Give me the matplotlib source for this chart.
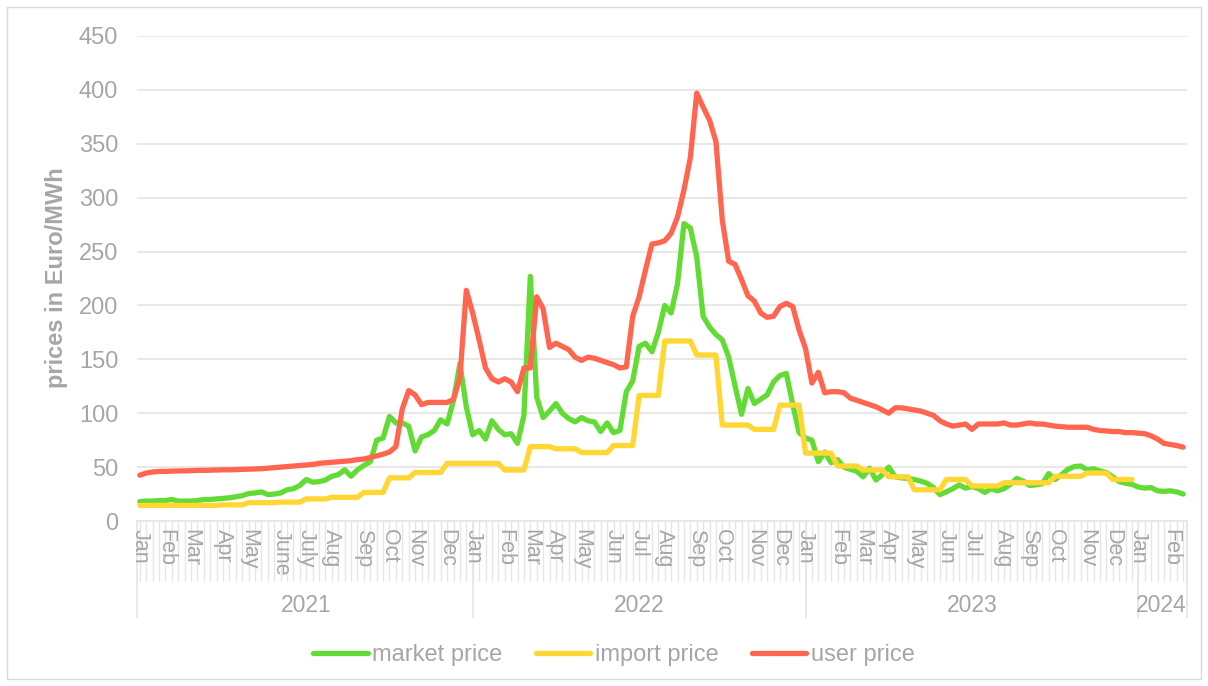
import matplotlib
matplotlib.use("Agg")
import matplotlib.pyplot as plt
from matplotlib.lines import Line2D
from matplotlib.patches import Rectangle
import matplotlib.transforms as mtransforms

plt.rcParams['font.family'] = ['Liberation Sans', 'DejaVu Sans']

# weekly prices, Jan 2021 - Feb 2024 (Euro/MWh)
market_price = [
    18, 18.5, 18.5, 19, 19, 20, 18.5, 18.5, 18.5, 19,
    20, 20, 20.5, 21, 21.5, 22.5, 23.5, 25.5, 26, 27,
    24.5, 25, 26, 29, 30, 33, 38.5, 36, 36.5, 38,
    41.5, 43, 47.5, 41.5, 47.5, 51.5, 55, 75, 77, 97,
    91, 91, 88, 65, 78, 80, 84, 94, 90, 112,
    146, 106, 80, 84, 76, 93, 85, 80, 81, 72,
    98, 227, 115, 96, 102, 109, 100, 95, 92, 96,
    93, 92, 83, 91, 82, 84, 120, 130, 162, 165,
    157, 175, 200, 193, 220, 276, 272, 245, 190, 180,
    173, 168, 152, 125, 99, 123, 109, 113, 117, 129,
    135, 137, 108, 82, 77, 75, 55, 64, 54, 57,
    50, 48, 46, 41, 49, 38, 43, 50, 41, 40,
    39.5, 38.5, 37, 35, 31, 24.5, 27, 30, 33.5, 30.5,
    32, 30, 26.5, 30, 28, 30, 34, 39.5, 37, 33,
    33.5, 34.5, 44, 38.5, 43, 48, 50.5, 51, 47.5, 48.5,
    46.5, 45, 41, 36.5, 35, 34, 31.5, 30.5, 31, 28,
    27.5, 28, 27, 25,
]

import_price = [
    14.5, 14.5, 14.5, 14.5, 14.5, 14.5, 14.5, 14.5, 14.5, 14.5,
    14.5, 14.5, 14.5, 15, 15, 15, 15, 17, 17, 17,
    17, 17, 17.5, 17.5, 17.5, 17.5, 20.5, 20.5, 20.5, 20.5,
    22, 22, 22, 22, 22, 26.5, 26.5, 26.5, 26.5, 40,
    40, 40, 40, 45, 45, 45, 45, 45, 53.5, 53.5,
    53.5, 53.5, 53.5, 53.5, 53.5, 53.5, 53.5, 47.3, 47.3, 47.3,
    47.3, 69, 69, 69, 69, 67, 67, 67, 67, 63.5,
    63.5, 63.5, 63.5, 63.5, 70, 70, 70, 70, 116.5, 116.5,
    116.5, 116.5, 167, 167, 167, 167, 167, 154, 154, 154,
    154, 89, 89, 89, 89, 89, 85, 85, 85, 85,
    107.5, 107.5, 107.5, 107.5, 63, 63, 63, 63, 63, 51,
    51, 51, 51, 47.3, 47.3, 47.3, 47.3, 41, 41, 41,
    41, 29, 29, 29, 29, 29, 38.5, 38.5, 38.5, 38.5,
    32.5, 32.5, 32.5, 32.5, 32.5, 35.5, 35.5, 35.5, 35.5, 35.5,
    35.5, 35.5, 35.5, 41.5, 41.5, 41.5, 41.5, 41.5, 44.5, 44.5,
    44.5, 44.5, 38.5, 38.5, 38.5, 38.5, None, None, None, None,
    None, None, None, None,
]

user_price = [
    42.5, 44.5, 45.5, 46, 46, 46.3, 46.4, 46.5, 46.7, 47,
    47, 47.2, 47.3, 47.5, 47.5, 47.7, 48, 48, 48.3, 48.5,
    49, 49.5, 50, 50.5, 51, 51.5, 52, 52.5, 53.5, 54,
    54.5, 55, 55.5, 56, 57, 57.5, 59, 60.5, 62, 64,
    69, 104, 121, 117, 108, 110, 110, 110, 110, 113,
    133, 214, 193, 168, 142, 132, 129, 132, 129, 120,
    142, 142, 208, 197, 161, 165, 162, 159, 152, 149,
    152, 151, 149, 147, 145, 142, 143, 190, 208, 233,
    257, 258, 260, 267, 282, 307, 337, 397, 384, 372,
    352, 279, 241, 238, 224, 209, 204, 193, 189, 190,
    199, 202, 199, 177, 160, 128, 138, 119, 120, 120,
    119, 114, 112, 110, 108, 106, 103, 100, 105, 105,
    104, 103, 102, 100, 98, 93, 90, 88, 89, 90,
    85, 90, 90, 90, 90, 91, 89, 89, 90, 91,
    90, 90, 89, 88, 87.5, 87, 87, 87, 87, 85,
    84, 83.5, 83, 83, 82, 82, 81.5, 81, 79, 76,
    72, 71, 70, 68.5,
]

# first week of each month (week index) and its label
month_pos = [0, 4, 8, 13, 17, 22, 26, 30, 35, 39, 43, 48,
             52, 57, 61, 65, 69, 74, 78, 82, 87, 91, 96, 100,
             104, 109, 113, 117, 121, 126, 130, 135, 139, 143, 148, 152,
             156, 161]
month_labels = ['Jan', 'Feb', 'Mar', 'Apr', 'May', 'June', 'July', 'Aug', 'Sep', 'Oct', 'Nov', 'Dec',
                'Jan', 'Feb', 'Mar', 'Apr', 'May', 'Jun', 'Jul', 'Aug', 'Sep', 'Oct', 'Nov', 'Dec',
                'Jan', 'Feb', 'Mar', 'Apr', 'May', 'Jun', 'Jul', 'Aug', 'Sep', 'Oct', 'Nov', 'Dec',
                'Jan', 'Feb']
years = ['2021', '2022', '2023', '2024']
year_start = [0, 52, 104, 156]

weeks = list(range(len(user_price)))

GREEN = '#63DB35'
YELLOW = '#FFD632'
RED = '#FF654F'
GREY = '#a6a6a6'
LIGHT = '#e6e6e6'

W, H = 1208, 686
fig = plt.figure(figsize=(W / 100, H / 100), dpi=100)
ax = fig.add_axes([137 / W, 1 - 521 / H, 1050 / W, 485 / H])

lw = 3.8
ax.plot(weeks, market_price, color=GREEN, lw=lw, solid_capstyle='round', solid_joinstyle='round', zorder=3)
ax.plot(weeks, import_price, color=YELLOW, lw=lw, solid_capstyle='round', solid_joinstyle='round', zorder=4)
ax.plot(weeks, user_price, color=RED, lw=lw, solid_capstyle='round', solid_joinstyle='round', zorder=5)

x_left, x_right = -0.45, len(weeks) - 1 + 0.6
ax.set_xlim(x_left, x_right)
ax.set_ylim(0, 450)
ax.set_yticks(range(0, 451, 50))
ax.yaxis.grid(True, color=LIGHT, lw=1.3)
ax.set_axisbelow(True)
for s in ['top', 'right', 'left']:
    ax.spines[s].set_visible(False)
ax.spines['bottom'].set_color(LIGHT)
ax.spines['bottom'].set_linewidth(1.3)

ax.tick_params(axis='y', length=0, pad=13.5, labelsize=17, labelcolor=GREY)
ax.set_xticks(month_pos)
ax.set_xticklabels(month_labels, rotation=270, fontsize=15.5, color=GREY)
ax.tick_params(axis='x', length=0, pad=6)

# category tick lines and year groups below the axis
trans = mtransforms.blended_transform_factory(ax.transData, ax.transAxes)
ax.vlines(weeks, -60 / 485, 0, transform=trans, color=LIGHT, lw=1, clip_on=False, zorder=0)
for xs in [x_left] + year_start[1:] + [x_right]:
    ax.vlines(xs, -97 / 485, 0, transform=trans, color=LIGHT, lw=1.3, clip_on=False, zorder=0)
year_end = year_start[1:] + [len(weeks) - 1]
for name, a, b in zip(years, year_start, year_end):
    ax.text((a + b) / 2, -84 / 485, name, transform=trans, ha='center', va='center',
            fontsize=16.5, color=GREY)

fig.text(57 / W, 1 - 278 / H, 'prices in Euro/MWh', rotation=90, ha='center', va='center',
         fontsize=17, fontweight='bold', color=GREY)

handles = [Line2D([], [], color=c, lw=lw, solid_capstyle='round') for c in (GREEN, YELLOW, RED)]
fig.legend(handles, ['market price', 'import price', 'user price'], loc='center',
           bbox_to_anchor=(614 / W, 1 - 655 / H), ncol=3, frameon=False, fontsize=17,
           handlelength=2.3, handletextpad=0.2, columnspacing=1.4, labelcolor=GREY)

fig.patches.append(Rectangle((7 / W, 7 / H), 1194 / W, 672 / H, transform=fig.transFigure,
                             fill=False, edgecolor='#d9d9d9', lw=1))

fig.savefig('out.png', dpi=100)
